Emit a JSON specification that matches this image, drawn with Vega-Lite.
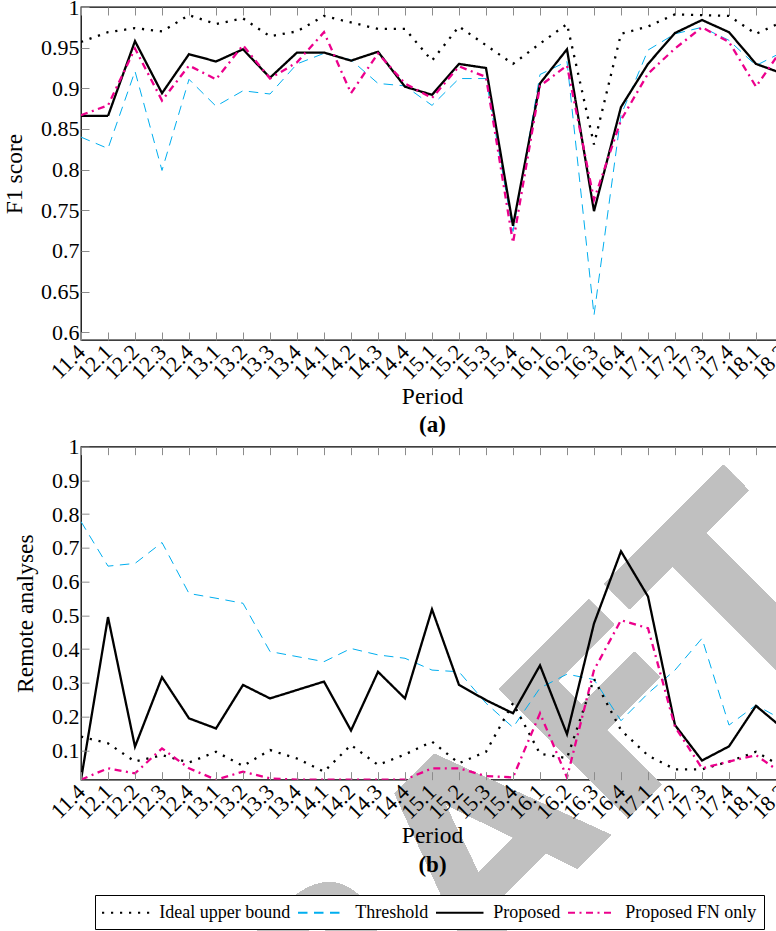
{
  "$schema": "https://vega.github.io/schema/vega-lite/v6.json",
  "autosize": {"type": "none"},
  "padding": {"left": 81, "top": 7, "right": 695, "bottom": 924},
  "bounds": "flush",
  "spacing": 106.67,
  "background": "white",
  "config": {
    "font": "Liberation Serif",
    "view": {"stroke": "black", "strokeWidth": 1.3, "fill": "white"},
    "axis": {"labelFont": "Liberation Serif", "labelFontSize": 22, "labelColor": "black", "titleFont": "Liberation Serif", "titleFontSize": 23.5, "titleFontWeight": "normal", "titleColor": "black", "tickColor": "#8c8c8c", "tickSize": -8, "tickWidth": 1, "domain": false, "grid": false},
    "legend": {"orient": "none", "legendX": 14, "legendY": 888, "direction": "horizontal", "labelFont": "Liberation Serif", "labelFontSize": 18, "labelColor": "black", "symbolType": "M-2.5,0H2.5", "symbolSize": 361, "symbolStrokeWidth": 2, "symbolOffset": 13.25, "labelOffset": 23, "strokeColor": "black", "fillColor": "white", "padding": 7, "columnPadding": 3, "labelLimit": 0}
  },
  "data": {"values": [
    {"period":"11.4","series":"Ideal upper bound","f1":0.957,"remote":0.141},
    {"period":"12.1","series":"Ideal upper bound","f1":0.969,"remote":0.121},
    {"period":"12.2","series":"Ideal upper bound","f1":0.974,"remote":0.067},
    {"period":"12.3","series":"Ideal upper bound","f1":0.970,"remote":0.086},
    {"period":"12.4","series":"Ideal upper bound","f1":0.990,"remote":0.064},
    {"period":"13.1","series":"Ideal upper bound","f1":0.979,"remote":0.096},
    {"period":"13.2","series":"Ideal upper bound","f1":0.986,"remote":0.054},
    {"period":"13.3","series":"Ideal upper bound","f1":0.964,"remote":0.101},
    {"period":"13.4","series":"Ideal upper bound","f1":0.970,"remote":0.076},
    {"period":"14.1","series":"Ideal upper bound","f1":0.989,"remote":0.037},
    {"period":"14.2","series":"Ideal upper bound","f1":0.981,"remote":0.116},
    {"period":"14.3","series":"Ideal upper bound","f1":0.973,"remote":0.057},
    {"period":"14.4","series":"Ideal upper bound","f1":0.973,"remote":0.088},
    {"period":"15.1","series":"Ideal upper bound","f1":0.934,"remote":0.126},
    {"period":"15.2","series":"Ideal upper bound","f1":0.976,"remote":0.062},
    {"period":"15.3","series":"Ideal upper bound","f1":0.953,"remote":0.096},
    {"period":"15.4","series":"Ideal upper bound","f1":0.930,"remote":0.240},
    {"period":"16.1","series":"Ideal upper bound","f1":0.955,"remote":0.090},
    {"period":"16.2","series":"Ideal upper bound","f1":0.979,"remote":0.077},
    {"period":"16.3","series":"Ideal upper bound","f1":0.831,"remote":0.312},
    {"period":"16.4","series":"Ideal upper bound","f1":0.967,"remote":0.160},
    {"period":"17.1","series":"Ideal upper bound","f1":0.976,"remote":0.085},
    {"period":"17.2","series":"Ideal upper bound","f1":0.991,"remote":0.044},
    {"period":"17.3","series":"Ideal upper bound","f1":0.990,"remote":0.044},
    {"period":"17.4","series":"Ideal upper bound","f1":0.989,"remote":0.067},
    {"period":"18.1","series":"Ideal upper bound","f1":0.967,"remote":0.096},
    {"period":"18.2","series":"Ideal upper bound","f1":0.982,"remote":0.050},
    {"period":"11.4","series":"Threshold","f1":0.840,"remote":0.778},
    {"period":"12.1","series":"Threshold","f1":0.826,"remote":0.646},
    {"period":"12.2","series":"Threshold","f1":0.921,"remote":0.654},
    {"period":"12.3","series":"Threshold","f1":0.799,"remote":0.716},
    {"period":"12.4","series":"Threshold","f1":0.911,"remote":0.565},
    {"period":"13.1","series":"Threshold","f1":0.878,"remote":0.551},
    {"period":"13.2","series":"Threshold","f1":0.897,"remote":0.536},
    {"period":"13.3","series":"Threshold","f1":0.893,"remote":0.393},
    {"period":"13.4","series":"Threshold","f1":0.930,"remote":0.378},
    {"period":"14.1","series":"Threshold","f1":0.943,"remote":0.363},
    {"period":"14.2","series":"Threshold","f1":0.935,"remote":0.402},
    {"period":"14.3","series":"Threshold","f1":0.906,"remote":0.383},
    {"period":"14.4","series":"Threshold","f1":0.903,"remote":0.373},
    {"period":"15.1","series":"Threshold","f1":0.879,"remote":0.338},
    {"period":"15.2","series":"Threshold","f1":0.912,"remote":0.333},
    {"period":"15.3","series":"Threshold","f1":0.912,"remote":0.240},
    {"period":"15.4","series":"Threshold","f1":0.724,"remote":0.168},
    {"period":"16.1","series":"Threshold","f1":0.917,"remote":0.285},
    {"period":"16.2","series":"Threshold","f1":0.933,"remote":0.326},
    {"period":"16.3","series":"Threshold","f1":0.621,"remote":0.310},
    {"period":"16.4","series":"Threshold","f1":0.867,"remote":0.188},
    {"period":"17.1","series":"Threshold","f1":0.947,"remote":0.269},
    {"period":"17.2","series":"Threshold","f1":0.967,"remote":0.338},
    {"period":"17.3","series":"Threshold","f1":0.975,"remote":0.432},
    {"period":"17.4","series":"Threshold","f1":0.959,"remote":0.175},
    {"period":"18.1","series":"Threshold","f1":0.928,"remote":0.234},
    {"period":"18.2","series":"Threshold","f1":0.945,"remote":0.190},
    {"period":"11.4","series":"Proposed","f1":0.866,"remote":0.0133},
    {"period":"12.1","series":"Proposed","f1":0.866,"remote":0.495},
    {"period":"12.2","series":"Proposed","f1":0.958,"remote":0.111},
    {"period":"12.3","series":"Proposed","f1":0.894,"remote":0.317},
    {"period":"12.4","series":"Proposed","f1":0.942,"remote":0.195},
    {"period":"13.1","series":"Proposed","f1":0.933,"remote":0.165},
    {"period":"13.2","series":"Proposed","f1":0.948,"remote":0.294},
    {"period":"13.3","series":"Proposed","f1":0.913,"remote":0.254},
    {"period":"13.4","series":"Proposed","f1":0.944,"remote":0.279},
    {"period":"14.1","series":"Proposed","f1":0.944,"remote":0.304},
    {"period":"14.2","series":"Proposed","f1":0.934,"remote":0.159},
    {"period":"14.3","series":"Proposed","f1":0.945,"remote":0.333},
    {"period":"14.4","series":"Proposed","f1":0.902,"remote":0.254},
    {"period":"15.1","series":"Proposed","f1":0.892,"remote":0.518},
    {"period":"15.2","series":"Proposed","f1":0.930,"remote":0.294},
    {"period":"15.3","series":"Proposed","f1":0.925,"remote":0.249},
    {"period":"15.4","series":"Proposed","f1":0.731,"remote":0.210},
    {"period":"16.1","series":"Proposed","f1":0.906,"remote":0.352},
    {"period":"16.2","series":"Proposed","f1":0.948,"remote":0.148},
    {"period":"16.3","series":"Proposed","f1":0.749,"remote":0.476},
    {"period":"16.4","series":"Proposed","f1":0.877,"remote":0.690},
    {"period":"17.1","series":"Proposed","f1":0.930,"remote":0.556},
    {"period":"17.2","series":"Proposed","f1":0.968,"remote":0.175},
    {"period":"17.3","series":"Proposed","f1":0.984,"remote":0.070},
    {"period":"17.4","series":"Proposed","f1":0.969,"remote":0.112},
    {"period":"18.1","series":"Proposed","f1":0.930,"remote":0.232},
    {"period":"18.2","series":"Proposed","f1":0.918,"remote":0.165},
    {"period":"11.4","series":"Proposed FN only","f1":0.867,"remote":0.0133},
    {"period":"12.1","series":"Proposed FN only","f1":0.879,"remote":0.047},
    {"period":"12.2","series":"Proposed FN only","f1":0.949,"remote":0.032},
    {"period":"12.3","series":"Proposed FN only","f1":0.885,"remote":0.106},
    {"period":"12.4","series":"Proposed FN only","f1":0.928,"remote":0.047},
    {"period":"13.1","series":"Proposed FN only","f1":0.911,"remote":0.0133},
    {"period":"13.2","series":"Proposed FN only","f1":0.953,"remote":0.037},
    {"period":"13.3","series":"Proposed FN only","f1":0.912,"remote":0.017},
    {"period":"13.4","series":"Proposed FN only","f1":0.932,"remote":0.0133},
    {"period":"14.1","series":"Proposed FN only","f1":0.969,"remote":0.0133},
    {"period":"14.2","series":"Proposed FN only","f1":0.894,"remote":0.0133},
    {"period":"14.3","series":"Proposed FN only","f1":0.943,"remote":0.0133},
    {"period":"14.4","series":"Proposed FN only","f1":0.906,"remote":0.0133},
    {"period":"15.1","series":"Proposed FN only","f1":0.888,"remote":0.047},
    {"period":"15.2","series":"Proposed FN only","f1":0.927,"remote":0.047},
    {"period":"15.3","series":"Proposed FN only","f1":0.914,"remote":0.024},
    {"period":"15.4","series":"Proposed FN only","f1":0.710,"remote":0.020},
    {"period":"16.1","series":"Proposed FN only","f1":0.903,"remote":0.210},
    {"period":"16.2","series":"Proposed FN only","f1":0.928,"remote":0.020},
    {"period":"16.3","series":"Proposed FN only","f1":0.763,"remote":0.338},
    {"period":"16.4","series":"Proposed FN only","f1":0.861,"remote":0.486},
    {"period":"17.1","series":"Proposed FN only","f1":0.918,"remote":0.462},
    {"period":"17.2","series":"Proposed FN only","f1":0.949,"remote":0.170},
    {"period":"17.3","series":"Proposed FN only","f1":0.975,"remote":0.047},
    {"period":"17.4","series":"Proposed FN only","f1":0.957,"remote":0.067},
    {"period":"18.1","series":"Proposed FN only","f1":0.902,"remote":0.086},
    {"period":"18.2","series":"Proposed FN only","f1":0.950,"remote":0.030}
  ]},
  "vconcat": [
    {
      "width": 702,
      "height": 333,
      "resolve": {"axis": {"x": "independent", "y": "independent"}},
      "layer": [
        {
          "mark": {"type": "point", "opacity": 0},
          "encoding": {
            "x": {"field": "period", "type": "ordinal", "scale": {"type": "point", "padding": 0, "domain": ["11.4","12.1","12.2","12.3","12.4","13.1","13.2","13.3","13.4","14.1","14.2","14.3","14.4","15.1","15.2","15.3","15.4","16.1","16.2","16.3","16.4","17.1","17.2","17.3","17.4","18.1","18.2"]}, "axis": {"orient": "top", "labels": false, "title": null}},
            "y": {"field": "f1", "type": "quantitative", "scale": {"domain": [0.5905, 1], "zero": false, "nice": false}, "axis": null}
          }
        },
        {
          "mark": {"type": "point", "opacity": 0},
          "encoding": {
            "x": {"field": "period", "type": "ordinal", "axis": {"orient": "bottom", "labels": false, "ticks": false, "title": "(a)", "titleFontWeight": "bold", "titleFontSize": 23, "titlePadding": 73}},
            "y": {"field": "f1", "type": "quantitative", "axis": null}
          }
        },
        {
          "transform": [{"filter": "datum.series === 'Threshold'"}],
          "mark": {"type": "line", "clip": true, "strokeWidth": 1.0},
          "encoding": {
            "x": {"field": "period", "type": "ordinal", "axis": null},
            "y": {"field": "f1", "type": "quantitative", "axis": null},
            "color": {"field": "series", "type": "nominal", "title": null, "scale": {"domain": ["Ideal upper bound","Threshold","Proposed","Proposed FN only"], "range": ["black","#00AEEF","black","#EC008C"]}},
            "strokeDash": {"field": "series", "type": "nominal", "title": null, "scale": {"domain": ["Ideal upper bound","Threshold","Proposed","Proposed FN only"], "range": [[2.2,6.8],[9.5,6.5],[1,0],[7,4.5,2,4.5]]}}
          }
        },
        {
          "transform": [{"filter": "datum.series !== 'Threshold'"}],
          "mark": {"type": "line", "clip": true, "strokeWidth": 2.3},
          "encoding": {
            "x": {"field": "period", "type": "ordinal", "axis": {"zindex": 1, "labelAngle": -45, "labelAlign": "right", "labelBaseline": "middle", "labelPadding": 16, "labelOverlap": false, "title": "Period", "titlePadding": 1}},
            "y": {"field": "f1", "type": "quantitative", "axis": {"zindex": 1, "values": [0.6,0.65,0.7,0.75,0.8,0.85,0.9,0.95,1], "format": "~g", "title": "F1 score", "labelPadding": 10, "titlePadding": 14}},
            "color": {"field": "series", "type": "nominal", "title": null},
            "strokeDash": {"field": "series", "type": "nominal", "title": null}
          }
        }
      ]
    },
    {
      "width": 702,
      "height": 333,
      "resolve": {"axis": {"x": "independent", "y": "independent"}},
      "layer": [
        {
          "mark": {"type": "text", "text": "DRAFT", "font": "DejaVu Sans", "fontWeight": "bold", "fontSize": 250, "angle": 315, "dx": 15, "color": "#c0c0c0", "align": "center", "baseline": "middle"},
          "encoding": {
            "x": {"datum": "15.2", "type": "ordinal", "scale": {"type": "point", "padding": 0, "domain": ["11.4","12.1","12.2","12.3","12.4","13.1","13.2","13.3","13.4","14.1","14.2","14.3","14.4","15.1","15.2","15.3","15.4","16.1","16.2","16.3","16.4","17.1","17.2","17.3","17.4","18.1","18.2"]}, "axis": null},
            "y": {"datum": -0.287, "type": "quantitative", "scale": {"domain": [0.0133, 1], "zero": false, "nice": false}, "axis": null}
          }
        },
        {
          "mark": {"type": "point", "opacity": 0},
          "encoding": {
            "x": {"field": "period", "type": "ordinal", "axis": {"orient": "top", "labels": false, "title": null}},
            "y": {"field": "remote", "type": "quantitative", "axis": null}
          }
        },
        {
          "mark": {"type": "point", "opacity": 0},
          "encoding": {
            "x": {"field": "period", "type": "ordinal", "axis": {"zindex": 1, "orient": "bottom", "labels": false, "ticks": false, "title": "(b)", "titleFontWeight": "bold", "titleFontSize": 23, "titlePadding": 74}},
            "y": {"field": "remote", "type": "quantitative", "axis": null}
          }
        },
        {
          "transform": [{"filter": "datum.series === 'Threshold'"}],
          "mark": {"type": "line", "clip": true, "strokeWidth": 1.0},
          "encoding": {
            "x": {"field": "period", "type": "ordinal", "axis": null},
            "y": {"field": "remote", "type": "quantitative", "axis": null},
            "color": {"field": "series", "type": "nominal", "title": null, "scale": {"domain": ["Ideal upper bound","Threshold","Proposed","Proposed FN only"], "range": ["black","#00AEEF","black","#EC008C"]}},
            "strokeDash": {"field": "series", "type": "nominal", "title": null, "scale": {"domain": ["Ideal upper bound","Threshold","Proposed","Proposed FN only"], "range": [[2.2,6.8],[9.5,6.5],[1,0],[7,4.5,2,4.5]]}}
          }
        },
        {
          "transform": [{"filter": "datum.series !== 'Threshold'"}],
          "mark": {"type": "line", "clip": true, "strokeWidth": 2.3},
          "encoding": {
            "x": {"field": "period", "type": "ordinal", "axis": {"zindex": 1, "labelAngle": -45, "labelAlign": "right", "labelBaseline": "middle", "labelPadding": 16, "labelOverlap": false, "title": "Period", "titlePadding": 1}},
            "y": {"field": "remote", "type": "quantitative", "axis": {"zindex": 1, "values": [0.1,0.2,0.3,0.4,0.5,0.6,0.7,0.8,0.9,1], "format": "~g", "title": "Remote analyses", "labelPadding": 10, "titlePadding": 14}},
            "color": {"field": "series", "type": "nominal", "title": null},
            "strokeDash": {"field": "series", "type": "nominal", "title": null}
          }
        }
      ]
    }
  ]
}
